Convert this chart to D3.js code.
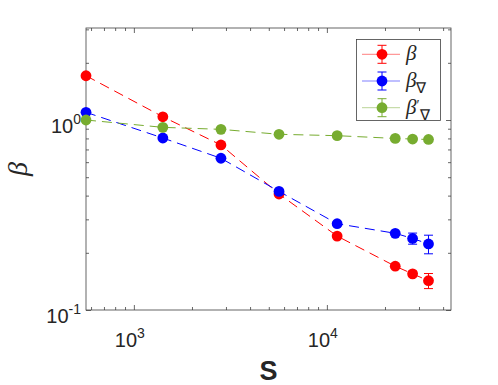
<!DOCTYPE html>
<html>
<head>
<meta charset="utf-8">
<script src="https://cdn.jsdelivr.net/npm/d3@7"></script>
<style>
body { margin: 0; background: #fff; }
svg { display: block; }
</style>
</head>
<body>
<script>
const width = 498, height = 385;
const margin = {left: 86, right: 47, top: 28, bottom: 75};

// data
const S = [565, 1413, 2826, 5650, 11300, 22600, 27800, 33600];
const beta = [1.71, 1.04, 0.739, 0.408, 0.245, 0.170, 0.155, 0.1426];
const betaErr = [0.01, 0.01, 0.008, 0.005, 0.004, 0.004, 0.005, 0.013];
const betaNabla = [1.098, 0.804, 0.629, 0.421, 0.2846, 0.2533, 0.238, 0.2226];
const betaNablaErr = [0.01, 0.01, 0.008, 0.005, 0.005, 0.006, 0.016, 0.025];
const betaPrime = [1.0, 0.915, 0.893, 0.841, 0.827, 0.80, 0.794, 0.79];
const betaPrimeErr = [0.01, 0.008, 0.008, 0.006, 0.006, 0.006, 0.006, 0.006];

const xMajor = [1e3, 1e4];
const xMinor = [600, 700, 800, 900, 2000, 3000, 4000, 5000, 6000, 7000, 8000, 9000, 20000, 30000, 40000];
const yMajor = [0.1, 1];
const yMinor = [0.2, 0.3, 0.4, 0.5, 0.6, 0.7, 0.8, 0.9, 2, 3];

const series = [
  {name: "beta", vals: beta, err: betaErr, color: "#ff0000"},
  {name: "betaNabla", vals: betaNabla, err: betaNablaErr, color: "#0000ff"},
  {name: "betaPrime", vals: betaPrime, err: betaPrimeErr, color: "#77ac30"}
];

const svg = d3.select("body").append("svg")
  .attr("width", width)
  .attr("height", height);

const x = d3.scaleLog()
  .domain([565, 43950])
  .range([margin.left, width - margin.right]);

const y = d3.scaleLog()
  .domain([0.1, 3.05])
  .range([height - margin.bottom, margin.top]);

const axisColor = "#404040";
const x0 = margin.left, x1 = width - margin.right;
const y0 = height - margin.bottom, y1 = margin.top;

// ticks on all four sides, pointing inward
function tickAxis(axis, tr, vals, size) {
  const g = svg.append("g")
    .attr("transform", tr)
    .call(axis.tickValues(vals).tickSize(size).tickFormat(""));
  g.select(".domain").remove();
  g.selectAll(".tick line").attr("stroke", axisColor).attr("stroke-width", 0.8);
  return g;
}
tickAxis(d3.axisBottom(x), `translate(0,${y0})`, xMinor, -3);
tickAxis(d3.axisBottom(x), `translate(0,${y0})`, xMajor, -5);
tickAxis(d3.axisTop(x), `translate(0,${y1})`, xMinor, -3);
tickAxis(d3.axisTop(x), `translate(0,${y1})`, xMajor, -5);
tickAxis(d3.axisLeft(y), `translate(${x0},0)`, yMinor, -3);
tickAxis(d3.axisLeft(y), `translate(${x0},0)`, yMajor, -5);
tickAxis(d3.axisRight(y), `translate(${x1},0)`, yMinor, -3);
tickAxis(d3.axisRight(y), `translate(${x1},0)`, yMajor, -5);

svg.append("rect")
  .attr("x", x0).attr("y", y1)
  .attr("width", x1 - x0).attr("height", y0 - y1)
  .attr("fill", "none")
  .attr("stroke", axisColor)
  .attr("stroke-width", 0.8);

// tick labels as 10^n
const xLab = svg.append("g");
xMajor.forEach(v => {
  const t = xLab.append("text")
    .attr("x", x(v) - 4)
    .attr("y", y0 + 37)
    .attr("text-anchor", "middle")
    .attr("font-family", "Liberation Sans, Arial, sans-serif")
    .attr("font-size", 20)
    .attr("fill", "#262626");
  t.append("tspan").text("10");
  t.append("tspan").attr("font-size", 14).attr("dy", -9).text(Math.round(Math.log10(v)));
});

const yLab = svg.append("g");
yMajor.forEach(v => {
  const t = yLab.append("text")
    .attr("x", x0 - 5)
    .attr("y", y(v) + 13)
    .attr("text-anchor", "end")
    .attr("font-family", "Liberation Sans, Arial, sans-serif")
    .attr("font-size", 20)
    .attr("fill", "#262626");
  t.append("tspan").text("10");
  t.append("tspan").attr("font-size", 14).attr("dy", -9).text(Math.round(Math.log10(v)));
});

svg.append("text")
  .attr("x", (x0 + x1) / 2)
  .attr("y", 380)
  .attr("text-anchor", "middle")
  .attr("font-family", "Liberation Sans, Arial, sans-serif")
  .attr("font-weight", "bold")
  .attr("font-size", 27)
  .attr("fill", "#262626")
  .text("S");

svg.append("text")
  .attr("transform", "translate(27,169) rotate(-90)")
  .attr("text-anchor", "middle")
  .attr("font-family", "Liberation Serif, Times New Roman, serif")
  .attr("font-style", "italic")
  .attr("font-size", 28)
  .attr("fill", "#262626")
  .text("β");

// lines, error bars, markers
const line = d3.line()
  .x((d, i) => x(S[i]))
  .y(d => y(d));

const cap = 4.5;
series.forEach(s => {
  const g = svg.append("g");
  g.append("path")
    .attr("d", line(s.vals))
    .attr("fill", "none")
    .attr("stroke", s.color)
    .attr("stroke-width", 1)
    .attr("stroke-dasharray", "10,6");

  const eb = g.selectAll(".eb")
    .data(s.vals.map((v, i) => ({x: S[i], v: v, e: s.err[i]})))
    .enter().append("g");
  eb.append("line")
    .attr("x1", d => x(d.x)).attr("x2", d => x(d.x))
    .attr("y1", d => y(d.v + d.e)).attr("y2", d => y(d.v - d.e));
  eb.append("line")
    .attr("x1", d => x(d.x) - cap).attr("x2", d => x(d.x) + cap)
    .attr("y1", d => y(d.v + d.e)).attr("y2", d => y(d.v + d.e));
  eb.append("line")
    .attr("x1", d => x(d.x) - cap).attr("x2", d => x(d.x) + cap)
    .attr("y1", d => y(d.v - d.e)).attr("y2", d => y(d.v - d.e));
  eb.selectAll("line").attr("stroke", s.color).attr("stroke-width", 1);

  g.selectAll(".dot")
    .data(s.vals)
    .enter().append("circle")
    .attr("cx", (d, i) => x(S[i]))
    .attr("cy", d => y(d))
    .attr("r", 5.4)
    .attr("fill", s.color);
});

// legend
const leg = svg.append("g");
leg.append("rect")
  .attr("x", 356.5).attr("y", 39.5)
  .attr("width", 84).attr("height", 81)
  .attr("fill", "#fff")
  .attr("stroke", axisColor)
  .attr("stroke-width", 0.8);

const legLabels = [
  {main: "β", prime: "", sub: ""},
  {main: "β", prime: "", sub: "∇"},
  {main: "β", prime: "′", sub: "∇"}
];

series.forEach((s, i) => {
  const cy = 54.3 + i * 26.7;
  const cx = 382;
  leg.append("line")
    .attr("x1", 362).attr("x2", 400)
    .attr("y1", cy).attr("y2", cy)
    .attr("stroke", s.color).attr("stroke-opacity", 0.5).attr("stroke-width", 1);
  leg.append("line")
    .attr("x1", cx).attr("x2", cx)
    .attr("y1", cy - 9).attr("y2", cy + 9)
    .attr("stroke", s.color);
  [-9, 9].forEach(o => leg.append("line")
    .attr("x1", cx - cap).attr("x2", cx + cap)
    .attr("y1", cy + o).attr("y2", cy + o)
    .attr("stroke", s.color));
  leg.append("circle")
    .attr("cx", cx).attr("cy", cy).attr("r", 5.4)
    .attr("fill", s.color);

  const lab = legLabels[i];
  const t = leg.append("text")
    .attr("x", 406)
    .attr("y", cy + 6)
    .attr("font-family", "Liberation Serif, Times New Roman, serif")
    .attr("font-style", "italic")
    .attr("font-size", 21)
    .attr("fill", "#262626");
  t.append("tspan").text(lab.main);
  if (lab.prime) t.append("tspan").attr("font-style", "normal").attr("font-size", 14).attr("dy", -4).text(lab.prime);
  if (lab.sub) t.append("tspan")
    .attr("font-style", "normal")
    .attr("font-size", 15)
    .attr("dy", lab.prime ? 10 : 6)
    .text(lab.sub);
});
</script>
</body>
</html>
